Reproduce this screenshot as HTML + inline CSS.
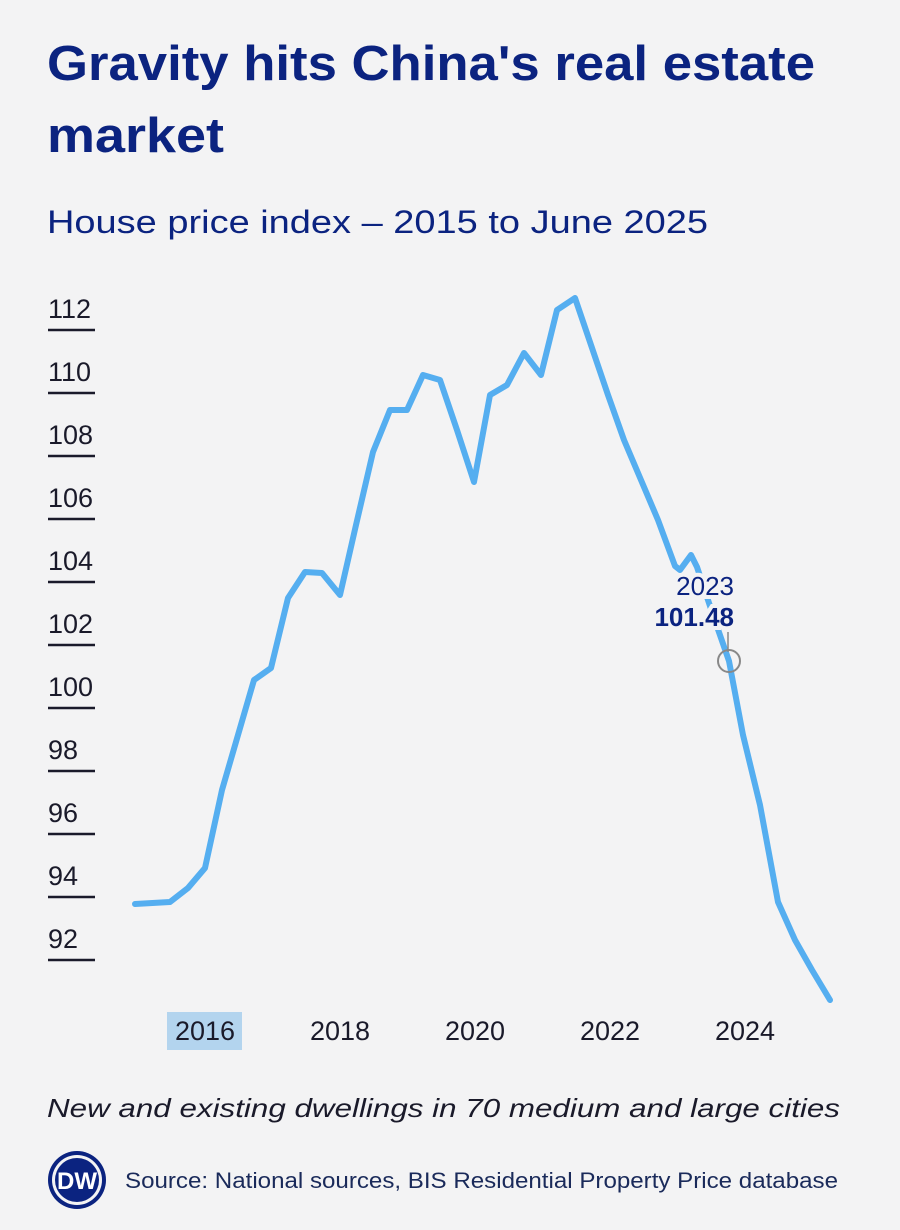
<!DOCTYPE html>
<html><head><meta charset="utf-8"><style>
body{margin:0;background:#f3f3f4;width:900px;height:1230px;overflow:hidden;font-family:"Liberation Sans",sans-serif}
</style></head><body>
<svg width="900" height="1230" xmlns="http://www.w3.org/2000/svg" style="position:absolute;left:0;top:0">
<rect width="900" height="1230" fill="#f3f3f4"/>
<text x="47" y="80" font-size="49" font-weight="bold" fill="#0b2380" textLength="768" lengthAdjust="spacingAndGlyphs">Gravity hits China's real estate</text>
<text x="47" y="152" font-size="49" font-weight="bold" fill="#0b2380" textLength="177" lengthAdjust="spacingAndGlyphs">market</text>
<text x="47" y="233" font-size="32" fill="#0b2380" textLength="661" lengthAdjust="spacingAndGlyphs">House price index – 2015 to June 2025</text>
<g font-size="27" fill="#1a1a2a">
<text x="48" y="318">112</text><text x="48" y="381">110</text><text x="48" y="444">108</text>
<text x="48" y="507">106</text><text x="48" y="570">104</text><text x="48" y="633">102</text>
<text x="48" y="696">100</text><text x="48" y="759">98</text><text x="48" y="822">96</text>
<text x="48" y="885">94</text><text x="48" y="948">92</text>
</g>
<g stroke="#1a1a2a" stroke-width="2.5">
<line x1="48" x2="95" y1="330" y2="330"/><line x1="48" x2="95" y1="393" y2="393"/>
<line x1="48" x2="95" y1="456" y2="456"/><line x1="48" x2="95" y1="519" y2="519"/>
<line x1="48" x2="95" y1="582" y2="582"/><line x1="48" x2="95" y1="645" y2="645"/>
<line x1="48" x2="95" y1="708" y2="708"/><line x1="48" x2="95" y1="771" y2="771"/>
<line x1="48" x2="95" y1="834" y2="834"/><line x1="48" x2="95" y1="897" y2="897"/>
<line x1="48" x2="95" y1="960" y2="960"/>
</g>
<rect x="167" y="1012" width="75" height="38" fill="#b3d4ee"/>
<g font-size="27" fill="#1a1a2a" text-anchor="middle">
<text x="205" y="1040">2016</text><text x="340" y="1040">2018</text><text x="475" y="1040">2020</text>
<text x="610" y="1040">2022</text><text x="745" y="1040">2024</text>
</g>
<polyline fill="none" stroke="#55aef0" stroke-width="6" stroke-linejoin="round" stroke-linecap="round" points="135,904 170,902 188,888 205,868 222,790 238,735 254,680 271,668 288,598 305,572 322,573 340,595 356,525 373,452 390,410 407,410 423,375 440,380 457,430 474,482 490,395 507,385 524,353 541,375 557,310 575,298 591,345 608,395 624,440 641,480 658,520 675,566 680,570 691,555 697,567 708,600 713,615 729,661 743,735 760,805 778,902 795,940 812,970 830,1000"/>
<line x1="728" y1="632" x2="728" y2="652" stroke="#888" stroke-width="1.5"/>
<circle cx="729" cy="661" r="11" fill="none" stroke="#888" stroke-width="2"/>
<g font-size="26" text-anchor="end" stroke="#f3f3f4" stroke-width="8" paint-order="stroke">
<text x="734" y="595" fill="#0b2380">2023</text>
<text x="734" y="626" fill="#0b2380" font-weight="bold">101.48</text>
</g>
<text x="47" y="1117" font-size="26" font-style="italic" fill="#1a1a2a" textLength="793" lengthAdjust="spacingAndGlyphs">New and existing dwellings in 70 medium and large cities</text>
<circle cx="77" cy="1180" r="29" fill="#0b2380"/>
<circle cx="77" cy="1180" r="25" fill="#f3f3f4"/>
<circle cx="77" cy="1180" r="22" fill="#0b2380"/>
<text x="77" y="1189" font-size="24" font-weight="bold" fill="#fff" text-anchor="middle">DW</text>
<text x="125" y="1188" font-size="22" fill="#1a2a5a" textLength="713" lengthAdjust="spacingAndGlyphs">Source: National sources, BIS Residential Property Price database</text>
</svg>
</body></html>
